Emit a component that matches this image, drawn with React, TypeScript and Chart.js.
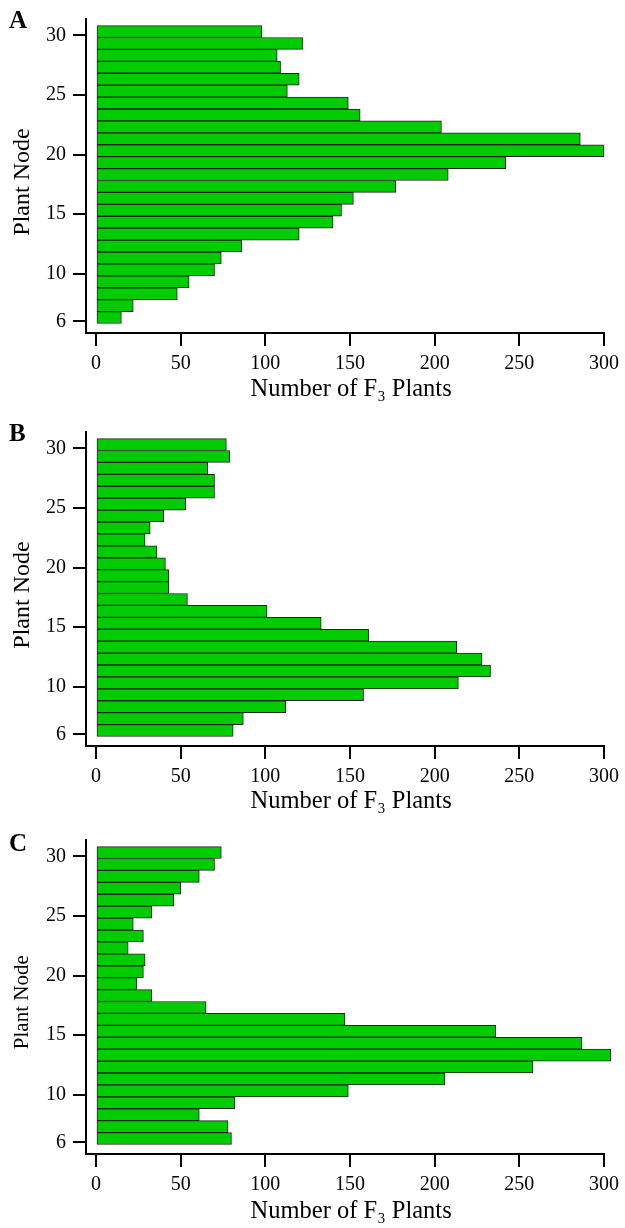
import React, { useEffect, useRef } from "react";
import { Chart, registerables } from "chart.js";

Chart.register(...registerables);

// ---- data ----
const nodes = [6, 7, 8, 9, 10, 11, 12, 13, 14, 15, 16, 17, 18, 19, 20, 21, 22, 23, 24, 25, 26, 27, 28, 29, 30];
const countsA = [15, 22, 48, 55, 70, 74, 86, 120, 140, 145, 152, 177, 208, 242, 300, 286, 204, 156, 149, 113, 120, 109, 107, 122, 98];
const countsB = [81, 87, 112, 158, 214, 233, 228, 213, 161, 133, 101, 54, 43, 43, 41, 36, 29, 32, 40, 53, 70, 70, 66, 79, 77];
const countsC = [80, 78, 61, 82, 149, 206, 258, 304, 287, 236, 147, 65, 33, 24, 28, 29, 19, 28, 22, 33, 46, 50, 61, 70, 74];
const xTickValues = [0, 50, 100, 150, 200, 250, 300];
const yTickValues = [6, 10, 15, 20, 25, 30];
const panelLetters = ["A", "B", "C"];
const xTitle = "Number of F\u2083 Plants";
const yTitle = "Plant Node";

const FONT = '"Liberation Serif", "Times New Roman", serif';
const GREEN = "#00cc00";
const BAR_EDGE = "#222222";

type PanelProps = {
  letter: string;
  counts: number[];
  top: number;
  height: number;
  yTitleSize: number;
  yTitlePadTop: number;
  xTitleCenter: number;
  letterBaseline: number;
};

function Panel({ letter, counts, top, height, yTitleSize, yTitlePadTop, xTitleCenter, letterBaseline }: PanelProps) {
  const ref = useRef<HTMLCanvasElement>(null);

  useEffect(() => {
    if (!ref.current) return;
    const OFF = 0.33;
    const tMin = 5.034;
    const tMax = 31.38;
    const areaBottom = 333;
    const xTitleSize = 24.5;
    const xTitlePadBottom = height - xTitleCenter - (xTitleSize * 1.2) / 2;

    const letterPlugin = {
      id: "panelLetter",
      afterDraw(chart: any) {
        const ctx = chart.ctx;
        ctx.save();
        ctx.font = `bold 25px ${FONT}`;
        ctx.fillStyle = "#000";
        ctx.textBaseline = "alphabetic";
        ctx.textAlign = "left";
        ctx.fillText(letter, 9, letterBaseline);
        ctx.restore();
      },
    };

    const tickGrid = {
      display: true,
      drawOnChartArea: false,
      drawTicks: true,
      tickLength: 13,
      color: "#000",
      lineWidth: 2,
      offset: false,
    };

    const chart = new Chart(ref.current, {
      type: "bar",
      data: {
        datasets: [
          {
            data: nodes.map((n, i) => ({ x: counts[i], y: n })),
            backgroundColor: GREEN,
            borderColor: BAR_EDGE,
            borderWidth: 1,
            borderSkipped: false,
            barPercentage: 1,
            categoryPercentage: 1,
            clip: false,
          } as any,
        ],
      },
      options: {
        indexAxis: "y",
        responsive: false,
        animation: false,
        events: [],
        layout: { padding: { top: 14, right: 20, left: 0, bottom: 0 } },
        plugins: {
          legend: { display: false },
          tooltip: { enabled: false },
        },
        scales: {
          x: {
            type: "linear",
            position: "bottom",
            offset: false,
            min: -5.9,
            max: 300,
            afterBuildTicks: (s: any) => {
              s.ticks = xTickValues.map((v) => ({ value: v }));
            },
            afterFit: (s: any) => {
              s.height = height - areaBottom;
            },
            grid: tickGrid,
            border: { display: true, color: "#000", width: 2 },
            ticks: {
              font: { family: FONT, size: 20 },
              color: "#000",
              padding: 6,
              maxRotation: 0,
              autoSkip: false,
            },
            title: {
              display: true,
              text: "  " + xTitle,
              font: { family: FONT, size: xTitleSize },
              color: "#000",
              padding: { top: 0, bottom: xTitlePadBottom },
            },
          },
          y: {
            type: "linear",
            display: false,
            offset: false,
            grid: { offset: false },
            min: tMin - OFF,
            max: tMax - OFF,
          },
          yt: {
            type: "linear",
            axis: "y",
            position: "left",
            offset: false,
            min: tMin,
            max: tMax,
            afterBuildTicks: (s: any) => {
              s.ticks = yTickValues.map((v) => ({ value: v }));
            },
            afterFit: (s: any) => {
              s.width = 86;
            },
            grid: tickGrid,
            border: { display: true, color: "#000", width: 2 },
            ticks: {
              font: { family: FONT, size: 20 },
              color: "#000",
              padding: 7,
              autoSkip: false,
            },
            title: {
              display: true,
              text: yTitle + "  ",
              font: { family: FONT, size: yTitleSize },
              color: "#000",
              padding: { top: yTitlePadTop, bottom: 0 },
            },
          } as any,
        },
      } as any,
      plugins: [letterPlugin],
    });
    return () => chart.destroy();
  }, []);

  return (
    <canvas
      ref={ref}
      width={625}
      height={height}
      style={{ position: "absolute", left: 0, top, width: 625, height, display: "block" }}
    />
  );
}

export default function App() {
  return (
    <div style={{ position: "absolute", left: 0, top: 0, width: 625, height: 1228, overflow: "hidden", background: "#fff" }}>
      <Panel letter={panelLetters[0]} counts={countsA} top={0} height={413} yTitleSize={24} yTitlePadTop={8.6} xTitleCenter={390} letterBaseline={28} />
      <Panel letter={panelLetters[1]} counts={countsB} top={413} height={408} yTitleSize={24} yTitlePadTop={8.6} xTitleCenter={389} letterBaseline={28} />
      <Panel letter={panelLetters[2]} counts={countsC} top={821} height={407} yTitleSize={21} yTitlePadTop={9.9} xTitleCenter={391} letterBaseline={29.5} />
    </div>
  );
}
